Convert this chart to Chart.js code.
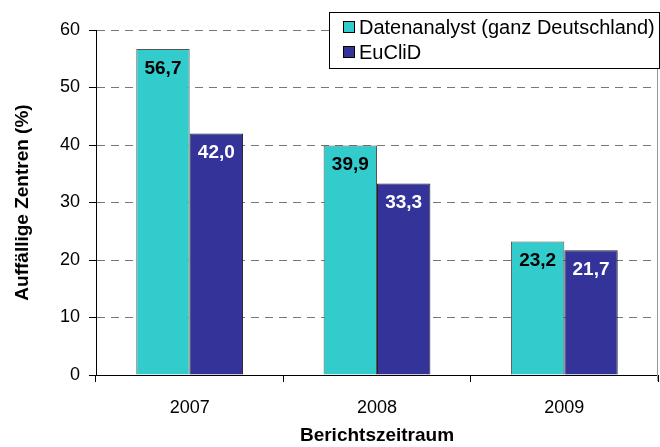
<!DOCTYPE html>
<html><head><meta charset="utf-8">
<script src="https://cdn.jsdelivr.net/npm/chart.js@4.4.1/dist/chart.umd.min.js"></script>
<style>html,body{margin:0;padding:0;background:#fff}#wrap{width:660px;height:447px}</style>
</head><body><div id="wrap"><canvas id="c" width="660" height="447"></canvas></div>
<script>
const categories = ['2007', '2008', '2009'];
const datenanalyst = [56.7, 39.9, 23.2];
const euclid = [42.0, 33.3, 21.7];
const seriesNames = ['Datenanalyst (ganz Deutschland)', 'EuCliD'];
const yTicks = [0, 10, 20, 30, 40, 50, 60];

const FONT = '"Liberation Sans", Arial, sans-serif';

const valueLabels = {
  id: 'valueLabels',
  afterDatasetsDraw(chart) {
    const ctx = chart.ctx;
    ctx.save();
    ctx.font = 'bold 19px ' + FONT;
    ctx.textAlign = 'center';
    ctx.textBaseline = 'top';
    chart.data.datasets.forEach((ds, di) => {
      const meta = chart.getDatasetMeta(di);
      meta.data.forEach((bar, i) => {
        ctx.fillStyle = di === 0 ? '#000' : '#fff';
        ctx.fillText(ds.data[i].toFixed(1).replace('.', ','), bar.x, bar.y + 10);
      });
    });
    ctx.restore();
  }
};

const frameAndLegend = {
  id: 'frameAndLegend',
  afterDraw(chart) {
    const ctx = chart.ctx;
    const a = chart.chartArea;
    ctx.save();
    ctx.strokeStyle = '#999';
    ctx.lineWidth = 1;
    ctx.beginPath();
    ctx.moveTo(a.right - 0.5, a.top);
    ctx.lineTo(a.right - 0.5, a.bottom + 6);
    ctx.stroke();
    const x = 329.5, y = 12.5, w = 330, h = 56;
    ctx.fillStyle = '#fff';
    ctx.fillRect(x, y, w, h);
    ctx.strokeStyle = '#000';
    ctx.strokeRect(x, y, w, h);
    ctx.font = '20px ' + FONT;
    ctx.textBaseline = 'middle';
    ctx.textAlign = 'left';
    chart.data.datasets.forEach((ds, i) => {
      const ry = 27 + i * 25;
      ctx.fillStyle = ds.backgroundColor;
      ctx.fillRect(343, ry - 6, 12, 12);
      ctx.strokeStyle = '#000';
      ctx.strokeRect(343.5, ry - 5.5, 11, 11);
      ctx.fillStyle = '#000';
      ctx.fillText(ds.label, 359, ry + 1);
    });
    ctx.restore();
  }
};

new Chart(document.getElementById('c'), {
  type: 'bar',
  data: {
    labels: categories,
    datasets: [
      { label: seriesNames[0], data: datenanalyst, backgroundColor: '#33CCCC', borderColor: '#555', borderWidth: 1 },
      { label: seriesNames[1], data: euclid, backgroundColor: '#333399', borderColor: '#222', borderWidth: 1 }
    ]
  },
  options: {
    responsive: false,
    animation: false,
    devicePixelRatio: 1,
    layout: { padding: { top: 30, right: 2, left: 8, bottom: 0 } },
    categoryPercentage: 0.57,
    barPercentage: 1.0,
    plugins: { legend: { display: false }, tooltip: { enabled: false } },
    scales: {
      x: {
        offset: true,
        grid: { display: true, drawOnChartArea: false, offset: true, tickLength: 7, color: '#000', tickColor: '#000' },
        border: { display: true, color: '#000', width: 1 },
        ticks: { color: '#000', font: { family: FONT, size: 18 }, padding: 15 },
        title: { display: true, text: 'Berichtszeitraum', color: '#000', font: { family: FONT, size: 19, weight: 'bold' }, padding: { top: 6, bottom: 0 } },
        afterFit(s) { s.height = 72; }
      },
      y: {
        min: 0, max: 60,
        afterBuildTicks(s) { s.ticks = yTicks.map(v => ({ value: v })); },
        grid: { color: '#777', tickColor: '#000', tickLength: 7, lineWidth: 1 },
        border: { display: true, color: '#000', width: 1, dash: [8, 6] },
        ticks: { color: '#000', font: { family: FONT, size: 18 }, padding: 9 },
        title: { display: true, text: 'Auffällige Zentren (%)', color: '#000', font: { family: FONT, size: 19, weight: 'bold' }, padding: { top: 3, bottom: 6 } },
        afterFit(s) { s.width = 88; }
      }
    }
  },
  plugins: [valueLabels, frameAndLegend]
});
</script>
</body></html>
